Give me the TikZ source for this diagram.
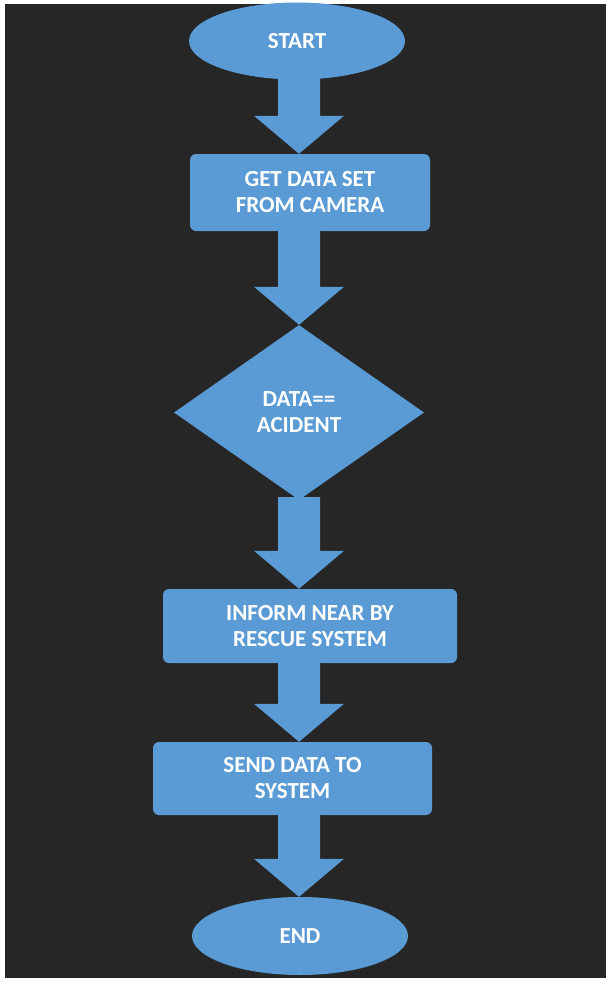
\documentclass[tikz,border=0pt]{standalone}
\usepackage{fontspec}
\setmainfont{Carlito}
\usetikzlibrary{shapes.geometric,calc}

\definecolor{panel}{HTML}{262626}
\definecolor{office}{HTML}{5B9BD5}

% block arrow from the bottom of #1 to the top of #2
\newcommand{\blockarrow}[2]{%
  \fill[flow] ($(axis |- #1.south)+(-21,-3)$) -- ($(axis |- #2.north)+(-21,-38)$)
    -- ($(axis |- #2.north)+(-45,-38)$) -- (axis |- #2.north)
    -- ($(axis |- #2.north)+(45,-38)$) -- ($(axis |- #2.north)+(21,-38)$)
    -- ($(axis |- #1.south)+(21,-3)$) -- cycle;}

\begin{document}
\begin{tikzpicture}[
    x=1pt, y=-1pt,
    flow/.style={fill=office},
    terminal/.style={ellipse, fill=office, text=white, inner sep=0pt, minimum width=216, minimum height=77},
    process/.style={rectangle, rounded corners=6, fill=office, text=white, align=center, inner sep=0pt},
    decision/.style={diamond, fill=office, text=white, align=center, inner sep=0pt, minimum width=250, minimum height=175},
    every node/.style={font=\fontsize{23}{26}\selectfont\bfseries}
]
\useasboundingbox (0,0) rectangle (608,985);
\fill[panel] (5,4) rectangle (606,978);

% === flow chart ===
\coordinate (axis) at (299,0);

\node[terminal] (start) at (297,41) {START};
\node[process, minimum width=240, minimum height=77] (getdata) at (310,192.5) {GET DATA SET\\FROM CAMERA};
\node[decision] (check) at (299,412.5) {DATA==\\ACIDENT};
\node[process, minimum width=294, minimum height=74] (inform) at (310,626) {INFORM NEAR BY\\RESCUE SYSTEM};
\node[process, minimum width=279, minimum height=73] (send) at (292.5,778.5) {SEND DATA TO\\SYSTEM};
\node[terminal, minimum height=78] (end) at (300,936) {END};

\blockarrow{start}{getdata}
\blockarrow{getdata}{check}
\blockarrow{check}{inform}
\blockarrow{inform}{send}
\blockarrow{send}{end}

\end{tikzpicture}
\end{document}
